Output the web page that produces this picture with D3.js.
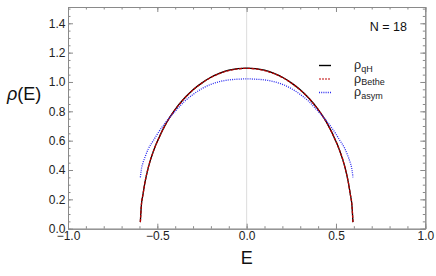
<!DOCTYPE html>
<html>
<head>
<meta charset="utf-8">
<script src="https://cdn.jsdelivr.net/npm/d3@7/dist/d3.min.js"></script>
<style>
  body { margin: 0; background: #fff; }
  text { font-family: "Liberation Sans", Arial, sans-serif; }
</style>
</head>
<body>
<div id="chart"></div>
<script>
var energies = [-0.595, -0.59, -0.58, -0.57, -0.55, -0.52, -0.5, -0.45, -0.4, -0.35, -0.3, -0.25, -0.2, -0.15, -0.1, -0.05, 0,
                0.05, 0.1, 0.15, 0.2, 0.25, 0.3, 0.35, 0.4, 0.45, 0.5, 0.52, 0.55, 0.57, 0.58, 0.59, 0.595];
var rhoQH    = [0.045, 0.15, 0.235, 0.31, 0.42, 0.535, 0.595, 0.72, 0.813, 0.887, 0.947, 0.994, 1.032, 1.06, 1.08, 1.091, 1.095,
                1.091, 1.08, 1.06, 1.032, 0.994, 0.947, 0.887, 0.813, 0.72, 0.595, 0.535, 0.42, 0.31, 0.235, 0.15, 0.045];
var rhoBethe = [0.045, 0.15, 0.235, 0.31, 0.42, 0.534, 0.594, 0.719, 0.812, 0.886, 0.946, 0.993, 1.031, 1.058, 1.078, 1.089, 1.093,
                1.089, 1.078, 1.058, 1.031, 0.993, 0.946, 0.886, 0.812, 0.719, 0.594, 0.534, 0.42, 0.31, 0.235, 0.15, 0.045];
var rhoAsym  = [0.35, 0.40, 0.45, 0.485, 0.545, 0.605, 0.645, 0.73, 0.80, 0.865, 0.915, 0.955, 0.984, 1.003, 1.014, 1.019, 1.021,
                1.019, 1.014, 1.003, 0.984, 0.955, 0.915, 0.865, 0.80, 0.73, 0.645, 0.605, 0.545, 0.485, 0.45, 0.40, 0.35];
var xMajor = [-1, -0.5, 0, 0.5, 1];
var yMajor = [0, 0.2, 0.4, 0.6, 0.8, 1.0, 1.2, 1.4];
var seriesNames = ["qH", "Bethe", "asym"];

var W = 436, H = 276;
var margin = {top: 7, right: 10.7, bottom: 47.3, left: 68},
    width = W - margin.left - margin.right,
    height = H - margin.top - margin.bottom;

var svg = d3.select("#chart").append("svg")
    .attr("width", W)
    .attr("height", H);

var g = svg.append("g")
    .attr("transform", "translate(" + margin.left + "," + margin.top + ")");

var x = d3.scaleLinear().domain([-1, 1]).range([0, width]);
var y = d3.scaleLinear().domain([0, 1.511]).range([height, 0]);

var xMinor = d3.range(-10, 11).map(function(i){ return i / 10; });
var yMinor = d3.range(0, 31).map(function(i){ return i / 20; });

// light line at E = 0
g.append("line")
  .attr("x1", x(0)).attr("x2", x(0))
  .attr("y1", 0).attr("y2", height)
  .attr("stroke", "#dcdcdc").attr("stroke-width", 1);

var frameColor = "#8a8a8a";
function styleAxis(sel, showText) {
  sel.select(".domain").attr("stroke", frameColor);
  sel.selectAll(".tick line").attr("stroke", frameColor);
  sel.selectAll("text")
     .attr("font-size", "12px")
     .attr("fill", "#222")
     .style("display", showText ? null : "none");
}

// bottom
g.append("g").attr("transform", "translate(0," + height + ")")
  .call(d3.axisBottom(x).tickValues(xMinor).tickSize(-2.5).tickFormat("").tickSizeOuter(0))
  .call(styleAxis, false);
g.append("g").attr("transform", "translate(0," + height + ")")
  .call(d3.axisBottom(x).tickValues(xMajor).tickSize(-5).tickPadding(3).tickSizeOuter(0)
        .tickFormat(d3.format(".1f")))
  .call(styleAxis, true);
// top
g.append("g")
  .call(d3.axisTop(x).tickValues(xMinor).tickSize(-2.5).tickFormat("").tickSizeOuter(0))
  .call(styleAxis, false);
g.append("g")
  .call(d3.axisTop(x).tickValues(xMajor).tickSize(-5).tickFormat("").tickSizeOuter(0))
  .call(styleAxis, false);
// left
g.append("g")
  .call(d3.axisLeft(y).tickValues(yMinor).tickSize(-2.5).tickFormat("").tickSizeOuter(0))
  .call(styleAxis, false);
g.append("g")
  .call(d3.axisLeft(y).tickValues(yMajor).tickSize(-5).tickPadding(2.5).tickSizeOuter(0)
        .tickFormat(d3.format(".1f")))
  .call(styleAxis, true);
// right
g.append("g").attr("transform", "translate(" + width + ",0)")
  .call(d3.axisRight(y).tickValues(yMinor).tickSize(-2.5).tickFormat("").tickSizeOuter(0))
  .call(styleAxis, false);
g.append("g").attr("transform", "translate(" + width + ",0)")
  .call(d3.axisRight(y).tickValues(yMajor).tickSize(-5).tickFormat("").tickSizeOuter(0))
  .call(styleAxis, false);

// curves
var styles = [
  {vals: rhoQH,    color: "#000",    dash: null,    legendColor: "#000",    legendDash: null},
  {vals: rhoBethe, color: "#b80000", dash: "3,1.2", legendColor: "#d55a5a", legendDash: "2,1"},
  {vals: rhoAsym,  color: "#2a2af0", dash: "1,1.2", legendColor: "#2a2af0", legendDash: "1,1.2"}
];

var line = d3.line()
    .x(function(d){ return x(d[0]); })
    .y(function(d){ return y(d[1]); })
    .curve(d3.curveMonotoneX);

styles.forEach(function(s) {
  g.append("path")
    .datum(energies.map(function(e, i){ return [e, s.vals[i]]; }))
    .attr("d", line)
    .attr("fill", "none")
    .attr("stroke", s.color)
    .attr("stroke-width", 1.3)
    .attr("stroke-dasharray", s.dash);
});

// legend
var legendY = [65.5, 79, 92.5];
styles.forEach(function(s, i) {
  svg.append("line")
    .attr("x1", 319).attr("x2", 331)
    .attr("y1", legendY[i]).attr("y2", legendY[i])
    .attr("stroke", s.legendColor)
    .attr("stroke-width", 1.4)
    .attr("stroke-dasharray", s.legendDash);
  var t = svg.append("text")
    .attr("x", 354).attr("y", legendY[i] + 3.5)
    .attr("font-size", "12.5px")
    .attr("fill", "#222");
  t.append("tspan").text("ρ");
  t.append("tspan").attr("dy", 2.5).attr("font-size", "9px").text(seriesNames[i]);
});

svg.append("text")
  .attr("x", 407).attr("y", 31)
  .attr("text-anchor", "end")
  .attr("font-size", "12.5px")
  .attr("fill", "#111")
  .text("N = 18");

// axis titles
svg.append("text")
  .attr("x", margin.left + x(0)).attr("y", 264)
  .attr("text-anchor", "middle")
  .attr("font-size", "18px")
  .attr("fill", "#111")
  .text("E");

var yl = svg.append("text")
  .attr("x", 7).attr("y", 100)
  .attr("font-size", "18px")
  .attr("fill", "#111");
yl.append("tspan").attr("font-style", "italic").text("ρ");
yl.append("tspan").text("(E)");
</script>
</body>
</html>
